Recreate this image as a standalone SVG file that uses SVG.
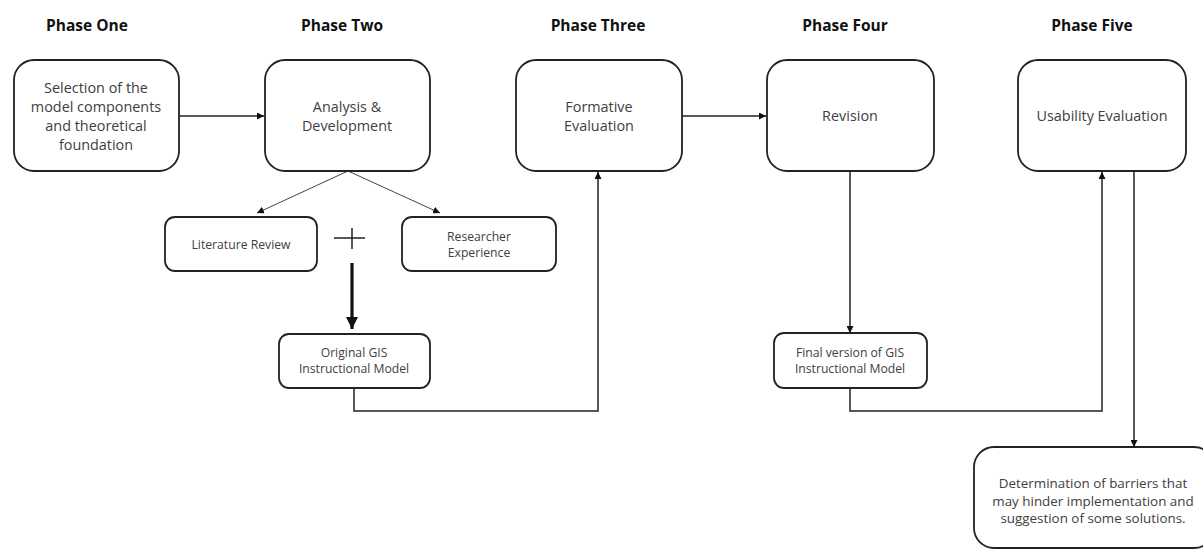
<svg xmlns="http://www.w3.org/2000/svg" width="1203" height="550" viewBox="0 0 1203 550">
  <style>
    .bg { fill: #ffffff; }
    .phase { font-family: "Open Sans", "Liberation Sans", sans-serif; font-weight: bold; font-size: 15.5px; fill: #111; text-anchor: middle; }
    .box { fill: #ffffff; stroke: #222; stroke-width: 1.8; }
    .lbl { font-family: "Open Sans", "Liberation Sans", sans-serif; font-size: 14.4px; fill: #404040; text-anchor: middle; }
    .sm { font-family: "Open Sans", "Liberation Sans", sans-serif; font-size: 12.2px; fill: #404040; text-anchor: middle; }
    .note { font-family: "Open Sans", "Liberation Sans", sans-serif; font-size: 13.4px; fill: #404040; text-anchor: middle; }
    .conn { fill: none; stroke: #222; stroke-width: 1.5; }
    .thin { fill: none; stroke: #444; stroke-width: 1; }
    .thick { fill: none; stroke: #111; stroke-width: 3.2; }
  </style>
  <defs>
    <marker id="arr" viewBox="0 0 10 10" refX="10" refY="5" markerWidth="7" markerHeight="7" markerUnits="userSpaceOnUse" orient="auto">
      <path d="M0,0 L10,5 L0,10 z" fill="#111"/>
    </marker>
    <marker id="arrBig" viewBox="0 0 10 10" refX="10" refY="5" markerWidth="12" markerHeight="12" markerUnits="userSpaceOnUse" orient="auto">
      <path d="M0,0 L10,5 L0,10 z" fill="#111"/>
    </marker>
  </defs>
  <rect class="bg" x="0" y="0" width="1203" height="550"/>

  <!-- phase headings -->
  <g id="headings">
    <text class="phase" x="87" y="31">Phase One</text>
    <text class="phase" x="342" y="31">Phase Two</text>
    <text class="phase" x="598" y="31">Phase Three</text>
    <text class="phase" x="845" y="31">Phase Four</text>
    <text class="phase" x="1092" y="31">Phase Five</text>
  </g>

  <!-- connectors -->
  <g id="connectors">
    <line class="conn" x1="179" y1="116" x2="264" y2="116" marker-end="url(#arr)"/>
    <line class="conn" x1="682" y1="116" x2="766" y2="116" marker-end="url(#arr)"/>
    <line class="thin" x1="348" y1="171" x2="257" y2="213" marker-end="url(#arr)"/>
    <line class="thin" x1="348" y1="171" x2="440" y2="213" marker-end="url(#arr)"/>
    <line class="thick" x1="352" y1="263" x2="352" y2="329" marker-end="url(#arrBig)"/>
    <polyline class="conn" points="354,388 354,411 598,411 598,172" marker-end="url(#arr)"/>
    <line class="conn" x1="850" y1="171" x2="850" y2="333" marker-end="url(#arr)"/>
    <polyline class="conn" points="850,388 850,411 1102,411 1102,172" marker-end="url(#arr)"/>
    <line class="conn" x1="1134" y1="171" x2="1134" y2="447" marker-end="url(#arr)"/>
  </g>

  <!-- plus sign between the two inputs -->
  <g id="plus">
    <line class="conn" x1="334" y1="238" x2="365" y2="238" stroke-width="2"/>
    <line class="conn" x1="352" y1="228" x2="352" y2="249" stroke-width="2"/>
  </g>

  <g id="phase-one">
    <rect class="box" x="14" y="60" width="165" height="111" rx="20"/>
    <text class="lbl" x="96" y="93">Selection of the</text>
    <text class="lbl" x="96" y="112">model components</text>
    <text class="lbl" x="96" y="131">and theoretical</text>
    <text class="lbl" x="96" y="150">foundation</text>
  </g>

  <g id="phase-two">
    <rect class="box" x="265" y="60" width="165" height="111" rx="20"/>
    <text class="lbl" x="347" y="112">Analysis &amp;</text>
    <text class="lbl" x="347" y="131">Development</text>
  </g>

  <g id="phase-three">
    <rect class="box" x="516" y="60" width="166" height="111" rx="20"/>
    <text class="lbl" x="599" y="112">Formative</text>
    <text class="lbl" x="599" y="131">Evaluation</text>
  </g>

  <g id="phase-four">
    <rect class="box" x="767" y="60" width="167" height="111" rx="20"/>
    <text class="lbl" x="850" y="121">Revision</text>
  </g>

  <g id="phase-five">
    <rect class="box" x="1018" y="60" width="168" height="111" rx="20"/>
    <text class="lbl" x="1102" y="121">Usability Evaluation</text>
  </g>

  <g id="literature-review">
    <rect class="box" x="165" y="217" width="152" height="54" rx="10"/>
    <text class="sm" x="241" y="249">Literature Review</text>
  </g>

  <g id="researcher-experience">
    <rect class="box" x="402" y="217" width="154" height="54" rx="10"/>
    <text class="sm" x="479" y="241">Researcher</text>
    <text class="sm" x="479" y="257">Experience</text>
  </g>

  <g id="original-model">
    <rect class="box" x="279" y="334" width="151" height="54" rx="10"/>
    <text class="sm" x="354" y="357">Original GIS</text>
    <text class="sm" x="354" y="373">Instructional Model</text>
  </g>

  <g id="final-model">
    <rect class="box" x="774" y="333" width="153" height="55" rx="10"/>
    <text class="sm" x="850" y="357">Final version of GIS</text>
    <text class="sm" x="850" y="373">Instructional Model</text>
  </g>

  <g id="barriers">
    <rect class="box" x="974" y="447" width="240" height="101" rx="20"/>
    <text class="note" x="1093" y="488">Determination of barriers that</text>
    <text class="note" x="1093" y="506">may hinder implementation and</text>
    <text class="note" x="1093" y="523">suggestion of some solutions.</text>
  </g>
</svg>
